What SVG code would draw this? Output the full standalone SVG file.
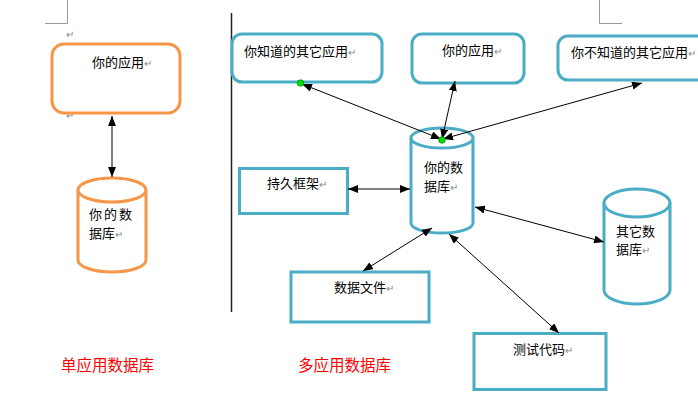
<svg xmlns="http://www.w3.org/2000/svg" width="698" height="401" viewBox="0 0 698 401">
<style>
  .t{font-family:"Noto Sans CJK SC","Liberation Sans",sans-serif;font-size:13px;fill:#000}
  .pm{fill:#888;font-size:10px}
  .cap{font-family:"Noto Sans CJK SC","Liberation Sans",sans-serif;font-size:15.5px;fill:#ff0000}
  .or{fill:#fff;stroke:#f79646;stroke-width:3}
  .bl{fill:#fff;stroke:#4bacc6;stroke-width:3}
  .ln{stroke:#000;stroke-width:1;fill:none;marker-start:url(#ah);marker-end:url(#ah)}
  .gm{stroke:#999;stroke-width:1;fill:none}
</style>
<defs>
  <marker id="ah" viewBox="0 0 10 8" refX="10" refY="4" markerWidth="10" markerHeight="8" markerUnits="userSpaceOnUse" orient="auto-start-reverse">
    <path d="M0,0 L10,4 L0,8 Z" fill="#000"/>
  </marker>
</defs>
<rect width="698" height="401" fill="#fff"/>
<g id="marks">
  <path class="gm" d="M67.5,0 V23.5 H45"/>
  <path class="gm" d="M599.5,0 V23.5 H622"/>
  <text class="t pm" x="66" y="38">↵</text>
  <text class="t pm" x="66" y="119">↵</text>
</g>
<g id="divider"><line x1="231.5" y1="13" x2="231.5" y2="312" stroke="#222" stroke-width="1.5"/></g>
<g id="app-left">
  <rect class="or" x="52" y="44" width="128" height="69" rx="12"/>
  <text class="t" x="92" y="67">你的应用<tspan class="pm">↵</tspan></text>
</g>
<g id="db-left">
  <path class="or" d="M78,190 V260 A34,12 0 0 0 146,260 V190"/>
  <ellipse class="or" cx="112" cy="190" rx="34" ry="12"/>
  <text class="t" x="89" y="219" letter-spacing="2">你的数</text>
  <text class="t" x="89" y="238">据库<tspan class="pm">↵</tspan></text>
</g>
<g id="known-apps">
  <rect class="bl" x="232" y="34" width="150" height="48" rx="10"/>
  <text class="t" x="244" y="56">你知道的其它应用<tspan class="pm">↵</tspan></text>
</g>
<g id="your-app">
  <rect class="bl" x="412" y="34" width="112" height="49" rx="10"/>
  <text class="t" x="442" y="55">你的应用<tspan class="pm">↵</tspan></text>
</g>
<g id="unknown-apps">
  <rect class="bl" x="558" y="36" width="150" height="44" rx="10"/>
  <text class="t" x="571" y="57">你不知道的其它应用<tspan class="pm">↵</tspan></text>
</g>
<g id="db-main">
  <path class="bl" d="M411,138 V223 A31,10 0 0 0 473,223 V138"/>
  <ellipse class="bl" cx="442" cy="138" rx="31" ry="10"/>
  <text class="t" x="424" y="172">你的数</text>
  <text class="t" x="424" y="191">据库<tspan class="pm">↵</tspan></text>
</g>
<g id="persist">
  <rect class="bl" x="239.5" y="168.5" width="108" height="45"/>
  <text class="t" x="267" y="188">持久框架<tspan class="pm">↵</tspan></text>
</g>
<g id="datafile">
  <rect class="bl" x="291" y="272" width="138" height="50"/>
  <text class="t" x="334" y="292">数据文件<tspan class="pm">↵</tspan></text>
</g>
<g id="testcode">
  <rect class="bl" x="474" y="333.5" width="132" height="56"/>
  <text class="t" x="513" y="354">测试代码<tspan class="pm">↵</tspan></text>
</g>
<g id="db-other">
  <path class="bl" d="M604,203 V290 A33,14 0 0 0 670,290 V203"/>
  <ellipse class="bl" cx="637" cy="203" rx="33" ry="14"/>
  <text class="t" x="616" y="236">其它数</text>
  <text class="t" x="616" y="254">据库<tspan class="pm">↵</tspan></text>
</g>
<g id="captions">
  <text class="cap" x="61" y="371">单应用数据库</text>
  <text class="cap" x="298" y="371">多应用数据库</text>
</g>
<g id="connectors">
  <line class="ln" x1="112" y1="116" x2="112" y2="177"/>
  <line class="ln" x1="302" y1="84" x2="441" y2="139"/>
  <line class="ln" x1="455" y1="81" x2="442" y2="139"/>
  <line class="ln" x1="642" y1="83" x2="443" y2="139"/>
  <line class="ln" x1="348" y1="189" x2="410" y2="189"/>
  <line class="ln" x1="432" y1="228" x2="363" y2="271"/>
  <line class="ln" x1="449" y1="234" x2="559" y2="333"/>
  <line class="ln" x1="475" y1="207" x2="604" y2="242"/>
</g>
<g id="dots">
  <circle cx="300.5" cy="83" r="3.3" fill="#00e000" stroke="#060" stroke-width="0.6"/>
  <circle cx="442" cy="140" r="3.3" fill="#00e000" stroke="#060" stroke-width="0.6"/>
</g>
</svg>
